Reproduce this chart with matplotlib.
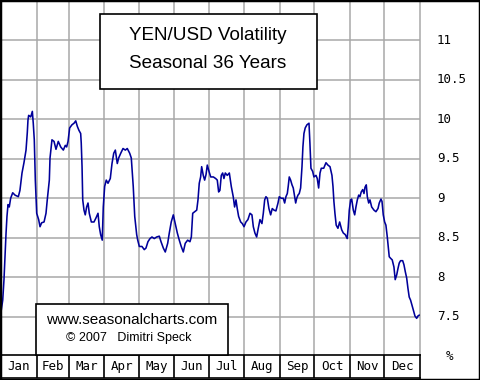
import matplotlib
matplotlib.use("Agg")
import matplotlib.pyplot as plt
from matplotlib.patches import Rectangle

# ---- data ----
months = ["Jan", "Feb", "Mar", "Apr", "May", "Jun", "Jul", "Aug", "Sep", "Oct", "Nov", "Dec"]
month_days = [31, 28, 31, 30, 31, 30, 31, 31, 30, 31, 30, 31]
y_ticks = [7.5, 8, 8.5, 9, 9.5, 10, 10.5, 11]
y_labels = ["7.5", "8", "8.5", "9", "9.5", "10", "10.5", "11"]

days = [0, 1.5, 2.6, 3.5, 4.4, 5.2, 6.1, 7.2, 8.4, 10.2, 12.2, 15.1, 16.5, 18.3, 20, 21.8,
        22.9, 23.5, 24.1, 25.9, 27.3, 28.1, 29, 29.9, 31.1, 32.8, 34, 35.4, 37.5, 39.2,
        40.3, 42.1, 42.7, 44.4, 46.2, 47.9, 49.9, 52, 54.3, 56, 57.2,
        58.4, 59.8, 61.8, 63.6, 65.1, 66.5, 67.9, 69.4, 69.9, 70.6, 71.2, 72.3, 73.4,
        74.6, 75.8, 76.9, 78.7, 81, 82.7, 84.5, 85.6, 86.8, 88.2, 89.1, 90.3, 91.7,
        93.2, 95.2, 96.7, 98.2, 99.6, 101.3, 102.5, 104.3, 106.3, 108.3, 110, 112.1,
        113.5, 115.2, 116.5, 118.2,
        119.1, 120.5, 122.8, 124.8, 126.3, 128, 129.8, 131.5, 133.5, 135.6, 137.9,
        139.4, 141.4, 143.1, 145.2, 146.6, 148.3, 150.1, 151.8, 153.6, 155.3, 157,
        158.8, 160.5, 162.6, 164.6, 165.8, 167, 168.7, 170.5, 171.6, 172.7, 173.9,
        174.8, 176.2, 177.4,
        178.6, 179.7, 181.2, 182.7, 185, 187, 188.4, 189.6, 190.7, 191.9, 193.1, 194.2,
        195.4, 197.1, 198.9, 200.6, 202.3, 203.5, 204.7, 205.8, 207, 208.8, 210.2,
        211.7, 213.4, 215.1, 216.9, 218.6, 219.8, 221.2, 222.7, 224.1, 225.6, 227.3,
        228.5, 229.7, 230.8, 232, 233.4, 234.9, 236.3, 237.8, 239.5,
        241.3, 242.4, 244.1, 245.9, 247.1, 248.2, 249.4, 250.2, 251.1, 252.3, 253.5,
        254.6, 255.8, 256.7, 257.6, 258.7, 259.8, 261, 262.2, 263, 263.9, 265, 266.5,
        268.3, 269.1, 270, 271.5, 272.6, 274.4, 275.5, 276.7, 277.9, 279, 281.1, 283.1,
        284.8, 286.6, 288.3, 289.2, 290, 290.9, 292, 293.5, 295,
        296.8, 298.2, 299.9, 301.6, 302.5, 303.4, 304.6, 305.5, 306.9, 308.1, 309.2,
        310.4, 311.6, 312.7, 313.8, 315.1, 316.2, 317.1, 318.2, 319.1, 320.3, 321.4,
        322.9, 324.9, 326.6, 328.4, 329.5, 331, 331.9, 333, 334.2, 335.3, 336.5, 337.3,
        338.2, 339.4, 340.8, 342.3, 343.4, 344.7, 345.8, 346.9, 348.1, 349.9, 351,
        352.2, 353.4, 354.5, 355.6, 356.8, 358, 359.1, 360.6, 362.1, 363.2, 364.3]

volatility = [7.56, 7.71, 7.97, 8.28, 8.56, 8.77, 8.92, 8.89, 9.0, 9.07, 9.04, 9.02, 9.1, 9.32, 9.45, 9.61,
              9.83, 9.99, 10.05, 10.03, 10.10, 9.95, 9.74, 9.23, 8.81, 8.73, 8.64, 8.69, 8.70, 8.81,
              8.98, 9.23, 9.51, 9.74, 9.72, 9.62, 9.72, 9.65, 9.61, 9.67, 9.65,
              9.72, 9.89, 9.93, 9.95, 9.98, 9.91, 9.86, 9.82, 9.70, 9.40, 8.98, 8.85, 8.79,
              8.89, 8.94, 8.81, 8.70, 8.70, 8.75, 8.81, 8.64, 8.54, 8.47, 8.89, 9.15, 9.23,
              9.19, 9.25, 9.44, 9.57, 9.61, 9.44, 9.51, 9.57, 9.63, 9.61, 9.63, 9.57,
              9.51, 9.15, 8.77, 8.54,
              8.47, 8.39, 8.39, 8.35, 8.37, 8.45, 8.49, 8.51, 8.49, 8.51, 8.52,
              8.45, 8.37, 8.32, 8.43, 8.56, 8.70, 8.79, 8.68, 8.56, 8.47, 8.39,
              8.32, 8.43, 8.47, 8.45, 8.51, 8.81, 8.83, 8.85, 8.98, 9.19, 9.27,
              9.40, 9.29, 9.23,
              9.30, 9.42, 9.34, 9.27, 9.27, 9.25, 9.23, 9.08, 9.10, 9.29, 9.32, 9.25,
              9.32, 9.29, 9.32, 9.15, 9.02, 8.89, 8.98, 8.87, 8.77, 8.70, 8.68,
              8.64, 8.70, 8.73, 8.81, 8.79, 8.64, 8.56, 8.51, 8.62, 8.73, 8.68,
              8.81, 8.98, 9.02, 9.0, 8.87, 8.79, 8.87, 8.85, 8.84,
              8.94, 9.02, 9.0, 9.0, 8.94, 9.02, 9.06, 9.15, 9.27, 9.23, 9.17,
              9.13, 9.02, 8.94, 9.0, 9.04, 9.06, 9.13, 9.40, 9.65, 9.82, 9.89, 9.93,
              9.95, 9.70, 9.38, 9.34, 9.27, 9.29, 9.25, 9.13, 9.32, 9.38, 9.38, 9.45,
              9.42, 9.40, 9.29, 9.15, 8.96, 8.81, 8.66, 8.62, 8.70,
              8.60, 8.56, 8.54, 8.49, 8.64, 8.85, 8.98, 8.99, 8.85, 8.79, 8.89,
              8.98, 9.04, 9.02, 9.08, 9.11, 9.06, 9.14, 9.17, 9.02, 8.94, 8.98,
              8.89, 8.85, 8.83, 8.87, 8.94, 8.99, 8.96, 8.79, 8.70, 8.66, 8.51, 8.39,
              8.26, 8.24, 8.22, 8.13, 7.97, 8.03, 8.11, 8.18, 8.21, 8.21, 8.16,
              8.07, 7.99, 7.86, 7.75, 7.71, 7.65, 7.59, 7.51, 7.48, 7.51, 7.52]

title_lines = ["YEN/USD Volatility", "Seasonal 36 Years"]
credit_lines = ["www.seasonalcharts.com", "\u00a9 2007   Dimitri Speck"]

# ---- layout helpers (pixel -> figure fraction) ----
W, H = 480, 380
def fx(px):
    return px / W
def fy(py):
    return 1 - py / H

fig = plt.figure(figsize=(4.8, 3.8), dpi=100)
fig.patch.set_facecolor("white")

# month boundaries
bounds = [0]
for d in month_days:
    bounds.append(bounds[-1] + d)

plot_l, plot_r, plot_t, plot_b = 1, 420, 0, 355
ax = fig.add_axes([fx(plot_l), fy(plot_b), fx(plot_r) - fx(plot_l), fy(plot_t) - fy(plot_b)])
ax.set_xlim(0, 365)
ax.set_ylim(7.016, 11.51)
for s in ax.spines.values():
    s.set_visible(False)
ax.set_xticks([])
ax.set_yticks([])
grid_c = "#a8a8a8"
for b in bounds[1:]:
    ax.axvline(b, color=grid_c, lw=1.1, zorder=1, clip_on=False)
for t in y_ticks:
    ax.axhline(t, color=grid_c, lw=1.1, zorder=1)
ax.plot(days, volatility, color="#00009a", lw=1.15, zorder=3)

# right-side labels
mono = "DejaVu Sans Mono"
for t, lab in zip(y_ticks, y_labels):
    ax.text(1.04, (t - 7.016) / (11.51 - 7.016), lab, transform=ax.transAxes,
            ha="left", va="center", fontsize=9, family=mono, color="black")
fig.text(fx(449), fy(356), "%", ha="center", va="center", fontsize=9, family=mono)

# month band
band = fig.add_axes([fx(plot_l), fy(378), fx(plot_r) - fx(plot_l), fy(355) - fy(378)])
band.set_xlim(0, 365)
band.set_ylim(0, 1)
band.set_xticks([])
band.set_yticks([])
for side, s in band.spines.items():
    s.set_color("black")
    s.set_linewidth(1.2)
band.spines["left"].set_visible(False)
for b in bounds[1:-1]:
    band.axvline(b, color="black", lw=1.2)
for i, m in enumerate(months):
    band.text((bounds[i] + bounds[i + 1]) / 2, 0.5, m, ha="center", va="center",
              fontsize=9, family=mono)

# title box
sans = "Liberation Sans"
fig.patches.append(Rectangle((fx(99.5), fy(89)), fx(316.5) - fx(99.5), fy(13.5) - fy(89),
                             transform=fig.transFigure, facecolor="white",
                             edgecolor="black", lw=1.2, zorder=5))
fig.text(fx(208), fy(35), title_lines[0], ha="center", va="center", fontsize=13.6,
         family=sans, zorder=6)
fig.text(fx(208), fy(63), title_lines[1], ha="center", va="center", fontsize=13.6,
         family=sans, zorder=6)

# credit box
fig.patches.append(Rectangle((fx(36), fy(355)), fx(228.5) - fx(36), fy(304) - fy(355),
                             transform=fig.transFigure, facecolor="white",
                             edgecolor="black", lw=1.2, zorder=5))
fig.text(fx(132), fy(320), credit_lines[0], ha="center", va="center", fontsize=11,
         family=sans, zorder=6)
fig.text(fx(129), fy(338.5), credit_lines[1], ha="center", va="center", fontsize=9,
         family=sans, zorder=6)

# outer border
fig.patches.append(Rectangle((0, 0), 1, 1, transform=fig.transFigure, fill=False,
                             edgecolor="black", lw=2.5, zorder=10))

fig.savefig("out.png", dpi=100)
